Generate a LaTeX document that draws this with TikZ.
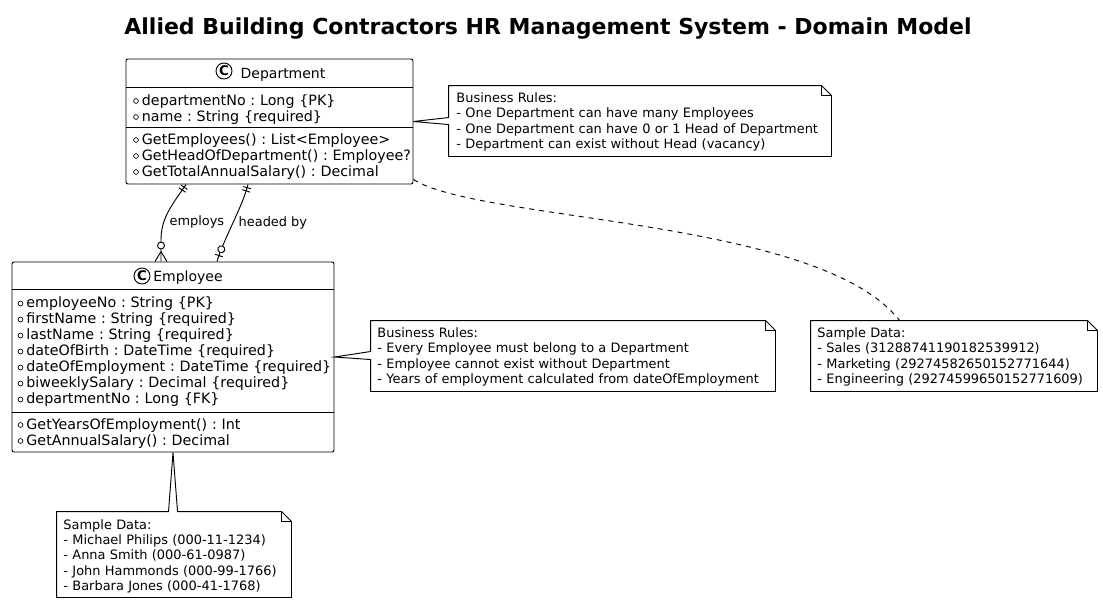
\documentclass[tikz,border=0pt]{standalone}
\usepackage{fontspec}
\setmainfont{DejaVu Sans}
\frenchspacing
\usetikzlibrary{positioning, calc, fit, decorations.markings}

\newcommand{\vis}{\tikz[baseline=-3pt]\draw[line width=0.5pt] (0,0) circle (1.8pt);\hspace{2.4pt}}
\newcommand{\fold}[1]{\draw ($(#1.north east)+(-10,0)$) |- ($(#1.north east)+(0,10)$);}

\begin{document}
\begin{tikzpicture}[x=0.75pt, y=-0.75pt, line width=0.7pt,
  classbox/.style={draw, fill=white, inner sep=0pt, rounded corners=1.5pt},
  notebox/.style={inner sep=0pt},
  spot/.style={draw, circle, fill=white, inner sep=0pt, minimum size=12pt,
               font=\fontsize{10}{12}\selectfont\bfseries},
  cname/.style={font=\fontsize{10.5}{12}\selectfont, inner sep=0pt, anchor=base},
  members/.style={font=\fontsize{10.7}{12}\selectfont, inner sep=0pt,
                  anchor=base west, text width=300pt, align=left},
  notetext/.style={font=\fontsize{9.7}{11.4}\selectfont, inner sep=0pt,
                   anchor=base west, text width=320pt, align=left},
  lbl/.style={font=\fontsize{9.7}{11.4}\selectfont, inner sep=4pt},
  onlyone/.style={postaction={decorate, decoration={markings,
      mark=at position 2.5pt with {\draw (0,-3pt) -- (0,3pt);},
      mark=at position 5pt with {\draw (0,-3pt) -- (0,3pt);}}}},
  zeromany/.style={postaction={decorate, decoration={markings,
      mark=at position -12pt with {\draw[fill=white] (0,0) circle (2.6pt);},
      mark=at position -7.5pt with {\draw (0,0) -- (7.5pt,4.5pt) (0,0) -- (7.5pt,-4.5pt);}}}},
  zeroone/.style={postaction={decorate, decoration={markings,
      mark=at position -9.75pt with {\draw[fill=white] (0,0) circle (2.6pt);},
      mark=at position -4.7pt with {\draw (0,-3pt) -- (0,3pt);}}}}]
  \useasboundingbox (0,0) rectangle (1103,604);
  \fill[white] (0,0) rectangle (1103,604);

  \node[font=\fontsize{16.5}{20}\selectfont\bfseries, anchor=base] (title) at (548,34)
    {Allied Building Contractors HR Management System - Domain Model};

  % Department class
  \node[classbox, fit={(126,59) (413,184)}] (dept) {};
  \node[spot] (deptspot) at (224,71) {C};
  \node[cname] (deptname) at (283,78) {Department};
  \draw (dept.west |- 0,87) -- (dept.east |- 0,87);
  \draw (dept.west |- 0,127) -- (dept.east |- 0,127);
  \node[members] (deptattr) at (133,105)
    {\vis departmentNo : Long \{PK\}\\
     \vis name : String \{required\}};
  \node[members] (deptops) at (133,144)
    {\vis GetEmployees() : List<Employee>\\
     \vis GetHeadOfDepartment() : Employee?\\
     \vis GetTotalAnnualSalary() : Decimal};

  % Employee class
  \node[classbox, fit={(12,262) (334,452)}] (emp) {};
  \node[spot] (empspot) at (142,276) {C};
  \node[cname] (empname) at (188,281) {Employee};
  \draw (emp.west |- 0,289) -- (emp.east |- 0,289);
  \draw (emp.west |- 0,412) -- (emp.east |- 0,412);
  \node[members] (empattr) at (17.5,307.5)
    {\vis employeeNo : String \{PK\}\\
     \vis firstName : String \{required\}\\
     \vis lastName : String \{required\}\\
     \vis dateOfBirth : DateTime \{required\}\\
     \vis dateOfEmployment : DateTime \{required\}\\
     \vis biweeklySalary : Decimal \{required\}\\
     \vis departmentNo : Long \{FK\}};
  \node[members] (empops) at (17.5,429)
    {\vis GetYearsOfEmployment() : Int\\
     \vis GetAnnualSalary() : Decimal};

  % relations
  \draw[onlyone, zeromany] (186,0 |- dept.south) .. controls (172,205) and (161,218) .. (161,240)
    node[lbl, right, pos=0.7] (employslbl) {employs} -- (161,0 |- emp.north);
  \draw[onlyone, zeroone] (248,0 |- dept.south) .. controls (242,208) and (224,238) .. (217,0 |- emp.north)
    node[lbl, right, pos=0.5] (headedlbl) {headed by};

  % notes
  \node[notebox, fit={(449,86) (831,156)}] (drules) {};
  \draw (drules.north west) -- ($(drules.north east)+(-10,0)$) -- ($(drules.north east)+(0,10)$)
    -- (drules.south east) -- (drules.south west) -- ($(drules.north west)+(0,39)$)
    -- (dept.east) -- ($(drules.north west)+(0,32)$) -- cycle;
  \fold{drules}
  \node[notetext] (drulestext) at (456,102.7)
    {Business Rules:\\
     - One Department can have many Employees\\
     - One Department can have 0 or 1 Head of Department\\
     - Department can exist without Head (vacancy)};

  \node[notebox, fit={(371,321) (775,391)}] (erules) {};
  \draw (erules.north west) -- ($(erules.north east)+(-10,0)$) -- ($(erules.north east)+(0,10)$)
    -- (erules.south east) -- (erules.south west) -- ($(erules.north west)+(0,39)$)
    -- (emp.east) -- ($(erules.north west)+(0,31)$) -- cycle;
  \fold{erules}
  \node[notetext] (erulestext) at (377,337.7)
    {Business Rules:\\
     - Every Employee must belong to a Department\\
     - Employee cannot exist without Department\\
     - Years of employment calculated from dateOfEmployment};

  \node[notebox, fit={(811,321) (1097,391)}] (dsample) {};
  \draw (dsample.north west) -- ($(dsample.north east)+(-10,0)$) -- ($(dsample.north east)+(0,10)$)
    -- (dsample.south east) -- (dsample.south west) -- cycle;
  \fold{dsample}
  \node[notetext] (dsampletext) at (817,337.7)
    {Sample Data:\\
     - Sales (31288741190182539912)\\
     - Marketing (29274582650152771644)\\
     - Engineering (29274599650152771609)};
  \draw[dash pattern=on 3.75pt off 3.75pt] ($(dept.south east)+(0,-5)$)
    .. controls (480,222) and (820,218) .. ($(dsample.north west)+(89,0)$);

  \node[notebox, fit={(57,512) (291,597)}] (esample) {};
  \draw (esample.north west) -- ($(esample.north west)+(112,0)$) -- (emp.south)
    -- ($(esample.north west)+(121,0)$) -- ($(esample.north east)+(-10,0)$)
    -- ($(esample.north east)+(0,10)$) -- (esample.south east) -- (esample.south west) -- cycle;
  \fold{esample}
  \node[notetext] (esampletext) at (63,529.4)
    {Sample Data:\\
     - Michael Philips (000-11-1234)\\
     - Anna Smith (000-61-0987)\\
     - John Hammonds (000-99-1766)\\
     - Barbara Jones (000-41-1768)};
\end{tikzpicture}
\end{document}
